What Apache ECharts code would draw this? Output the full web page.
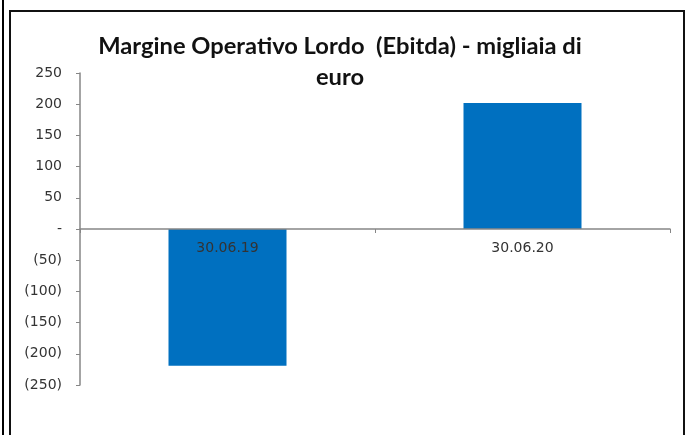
<!DOCTYPE html>
<html>
<head>
<meta charset="utf-8">
<script src="https://cdn.jsdelivr.net/npm/echarts@6/dist/echarts.min.js"></script>
<style>
    html, body { margin: 0; padding: 0; background: #fff; }
    #wrap { position: relative; width: 691px; height: 435px; overflow: hidden; }
    #outer { position: absolute; left: 2px; top: 0; width: 2px; height: 435px; background: #000; }
    #frame { position: absolute; left: 9px; top: 10px; width: 672px; height: 440px; border: 2px solid #111; }
    #chart { position: absolute; left: 0; top: 0; width: 691px; height: 435px; }
</style>
</head>
<body>
<div id="wrap">
    <div id="outer"></div>
    <div id="frame"></div>
    <div id="chart"></div>
</div>
<script>
const categories = ['30.06.19', '30.06.20'];
const ebitda = [-219, 202];
const titleText = 'Margine Operativo Lordo  (Ebitda) - migliaia di\neuro';

document.addEventListener('DOMContentLoaded', () => {
    var chart = echarts.init(document.getElementById('chart'), null, { renderer: 'canvas' });

    // grid is 312px tall and the range is symmetric, so zero sits at half height
    var gridTop = 73, gridBottom = 50;
    var zeroOffset = -(435 - gridTop - gridBottom) / 2;

    var option = {
        animation: false,
        title: {
            text: titleText,
            left: 335,
            textAlign: 'center',
            top: 26,
            textStyle: {
                fontFamily: 'Lato',
                fontWeight: 'bold',
                fontSize: 23.7,
                lineHeight: 31,
                color: '#111'
            }
        },
        grid: { left: 80, right: 21, top: gridTop, bottom: gridBottom },
        xAxis: {
            type: 'category',
            data: categories,
            offset: zeroOffset,
            z: 5,
            axisLine: { onZero: false, lineStyle: { color: '#868686', width: 1.5 } },
            axisTick: { show: true, length: 4, lineStyle: { color: '#868686' } },
            axisLabel: {
                margin: 12,
                fontFamily: 'DejaVu Sans',
                fontSize: 14,
                color: '#333'
            }
        },
        yAxis: {
            type: 'value',
            min: -250,
            max: 250,
            interval: 50,
            splitLine: { show: false },
            axisLine: { show: true, lineStyle: { color: '#868686', width: 1.5 } },
            axisTick: { show: true, length: 4, lineStyle: { color: '#868686' } },
            axisLabel: {
                margin: 18,
                fontFamily: 'DejaVu Sans',
                fontSize: 14,
                color: '#333',
                formatter: function (v) {
                    if (v === 0) return '-';
                    return v < 0 ? '(' + Math.abs(v) + ')' : String(v);
                }
            }
        },
        series: [
            {
                type: 'bar',
                data: ebitda,
                barWidth: '40%',
                itemStyle: { color: '#0070C0' }
            }
        ]
    };

    chart.setOption(option);
});
</script>
</body>
</html>
